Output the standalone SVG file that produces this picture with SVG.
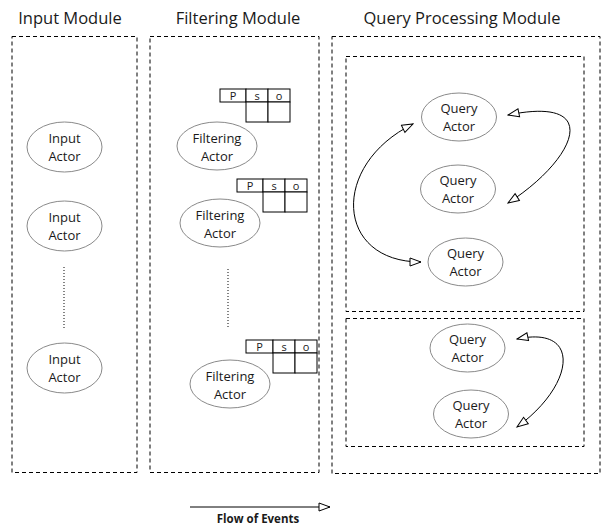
<svg xmlns="http://www.w3.org/2000/svg" width="604" height="526" viewBox="0 0 604 526">
<style>
.box{fill:none;stroke:#000;stroke-width:1;stroke-dasharray:4 3}
.title{font-family:"Open Sans","Liberation Sans",sans-serif;font-size:16.5px;fill:#1a1a1a;text-anchor:middle}
.act ellipse{fill:#fff;stroke:#8a8a8a;stroke-width:1}
.act text{font-family:"Open Sans","Liberation Sans",sans-serif;font-size:13px;fill:#1a1a1a;text-anchor:middle}
.tbl rect{fill:#fff;stroke:#000;stroke-width:1}
.tbl text{font-family:"Open Sans","Liberation Sans",sans-serif;font-size:11px;fill:#1a1a1a;text-anchor:middle}
.dots{stroke:#333;stroke-width:1.2;stroke-dasharray:1 2}
.conn path{fill:none;stroke:#000;stroke-width:1}
.flow{font-family:"Open Sans","Liberation Sans",sans-serif;font-size:11.5px;font-weight:bold;fill:#1a1a1a;text-anchor:middle}
</style>
<defs>
<marker id="open" markerUnits="userSpaceOnUse" markerWidth="14" markerHeight="10" refX="11" refY="4" orient="auto-start-reverse" viewBox="-1 -1 13 10">
<path d="M0,0 L11,4 L0,8 Z" fill="#fff" stroke="#000" stroke-width="1"/>
</marker>
</defs>
<rect width="604" height="526" fill="#fff"/>

<g id="input-module">
<text class="title" x="70" y="24">Input Module</text>
<rect class="box" x="12" y="36.5" width="125" height="436"/>
</g>
<g id="filtering-module">
<text class="title" x="238" y="24">Filtering Module</text>
<rect class="box" x="150" y="36.5" width="169" height="436"/>
</g>
<g id="query-module">
<text class="title" x="462" y="24">Query Processing Module</text>
<rect class="box" x="332" y="36.5" width="268" height="437"/>
<rect class="box" x="346" y="56.5" width="238" height="255"/>
<rect class="box" x="346" y="318.5" width="238" height="128"/>
</g>

<g id="input-actor-1" class="act"><ellipse cx="64.5" cy="147" rx="37.5" ry="25"/><text x="64.5" y="143">Input</text><text x="64.5" y="161">Actor</text></g>
<g id="input-actor-2" class="act"><ellipse cx="64.5" cy="226" rx="37.5" ry="25"/><text x="64.5" y="222">Input</text><text x="64.5" y="240">Actor</text></g>
<g id="input-actor-3" class="act"><ellipse cx="64.5" cy="368" rx="37.5" ry="25"/><text x="64.5" y="364">Input</text><text x="64.5" y="382">Actor</text></g>
<line id="input-dots" class="dots" x1="64" y1="267" x2="64" y2="328"/>

<g id="filtering-actor-1" class="act"><ellipse cx="217" cy="146" rx="40" ry="24"/><text x="217" y="143">Filtering</text><text x="217" y="161">Actor</text></g>
<g id="filtering-actor-2" class="act"><ellipse cx="220" cy="223" rx="40" ry="24"/><text x="220" y="220">Filtering</text><text x="220" y="238">Actor</text></g>
<g id="filtering-actor-3" class="act"><ellipse cx="230" cy="384" rx="40" ry="24"/><text x="230" y="381">Filtering</text><text x="230" y="399">Actor</text></g>
<line id="filter-dots" class="dots" x1="228" y1="269" x2="228" y2="329"/>

<g id="table-1" class="tbl">
<rect x="220" y="89" width="26" height="13"/><rect x="246" y="89" width="22" height="13"/><rect x="268" y="89" width="22" height="13"/>
<rect x="246" y="102" width="22" height="20"/><rect x="268" y="102" width="22" height="20"/>
<text x="233" y="99.5">P</text><text x="257" y="99.5">s</text><text x="279" y="99.5">o</text>
</g>
<g id="table-2" class="tbl">
<rect x="237" y="179" width="26" height="13"/><rect x="263" y="179" width="22" height="13"/><rect x="285" y="179" width="22" height="13"/>
<rect x="263" y="192" width="22" height="20"/><rect x="285" y="192" width="22" height="20"/>
<text x="250" y="189.5">P</text><text x="274" y="189.5">s</text><text x="296" y="189.5">o</text>
</g>
<g id="table-3" class="tbl">
<rect x="246" y="340" width="27" height="13"/><rect x="273" y="340" width="22" height="13"/><rect x="295" y="340" width="22" height="13"/>
<rect x="273" y="353" width="22" height="20"/><rect x="295" y="353" width="22" height="20"/>
<text x="259.5" y="350.5">P</text><text x="284" y="350.5">s</text><text x="306" y="350.5">o</text>
</g>

<g id="query-actor-1" class="act"><ellipse cx="459" cy="117" rx="37.5" ry="24"/><text x="459" y="113">Query</text><text x="459" y="131">Actor</text></g>
<g id="query-actor-2" class="act"><ellipse cx="458" cy="189" rx="37.5" ry="24"/><text x="458" y="185">Query</text><text x="458" y="203">Actor</text></g>
<g id="query-actor-3" class="act"><ellipse cx="465.5" cy="262" rx="37.5" ry="24"/><text x="465.5" y="258">Query</text><text x="465.5" y="276">Actor</text></g>
<g id="query-actor-4" class="act"><ellipse cx="467.5" cy="348" rx="37.5" ry="24"/><text x="467.5" y="344">Query</text><text x="467.5" y="362">Actor</text></g>
<g id="query-actor-5" class="act"><ellipse cx="471" cy="414" rx="37.5" ry="24"/><text x="471" y="410">Query</text><text x="471" y="428">Actor</text></g>

<g id="connectors" class="conn">
<path d="M508,115 C605,95 575,160 508,203" marker-start="url(#open)" marker-end="url(#open)"/>
<path d="M413,124 C330,165 335,262 421,262" marker-start="url(#open)" marker-end="url(#open)"/>
<path d="M517,339 C582,325 575,385 517,427" marker-start="url(#open)" marker-end="url(#open)"/>
<path d="M190,507 L330,507" marker-end="url(#open)"/>
</g>
<text class="flow" x="258" y="523">Flow of Events</text>
</svg>
